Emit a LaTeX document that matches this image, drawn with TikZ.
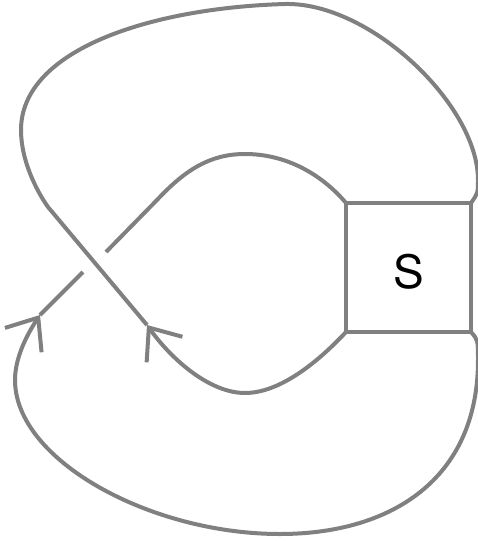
\documentclass[tikz,border=0pt]{standalone}
\usepackage{fontspec}
\setmainfont{TeX Gyre Heros}
\usetikzlibrary{arrows.meta}
\definecolor{lc}{RGB}{128,128,128}
\tikzset{
  strand/.style={draw=lc, line width=4pt},
  barb/.style={-{Straight Barb[sharp, length=27pt, width=44pt]}},
  sbox/.style={draw=lc, line width=4pt, rectangle, outer sep=0pt, inner sep=0pt,
    minimum width=125pt, minimum height=129pt, text height=49pt, text depth=8pt,
    font=\fontsize{46}{50}\selectfont}
}
\begin{document}
\begin{tikzpicture}[x=1pt, y=-1pt]
\useasboundingbox (0,0) rectangle (478,541);
\node[sbox] (S) at (408.5,267.5) {S};
\coordinate (tipR) at (147,325);
\coordinate (tipL) at (40,315);
\coordinate (gapA) at (83,272);
\coordinate (gapB) at (106,252);
% over strand
\draw[strand, barb] (S.south west) .. controls (318,362) and (280,393) .. (245,393)
  .. controls (210,393) and (172,360) .. (tipR);
\draw[strand] (tipR) -- (48,207) .. controls (36,190) and (21,160) .. (21,130)
  .. controls (21,50) and (150,8) .. (285,4)
  .. controls (370,2) and (478,105) .. (478,180)
  .. controls (478,193) .. (S.north east);
% under strand
\draw[strand, barb] (S.south east) .. controls (478,340) .. (478,360)
  .. controls (478,480) and (390,534) .. (280,534)
  .. controls (150,534) and (15,460) .. (15,380)
  .. controls (15,355) and (30,330) .. (tipL);
\draw[strand] (tipL) -- (gapA);
\draw[strand] (gapB) -- (157,200) .. controls (185,170) and (210,154) .. (245,154)
  .. controls (290,154) and (325,178) .. (S.north west);
\end{tikzpicture}
\end{document}
